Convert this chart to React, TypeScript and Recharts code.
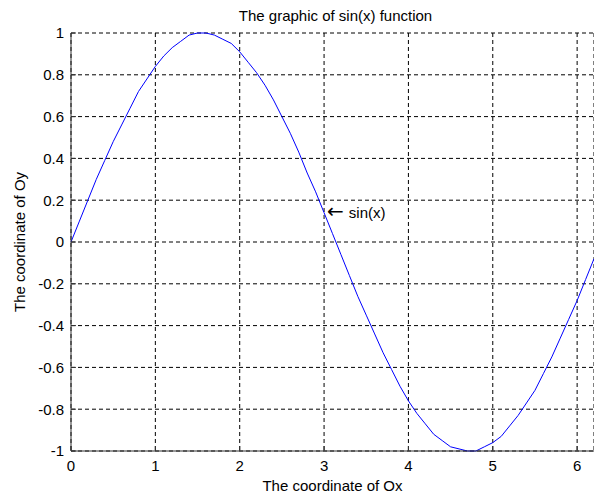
import { LineChart, Line, XAxis, YAxis, CartesianGrid, ReferenceDot } from 'recharts';

// samples, step 0.1
const xValues = [
  0, 0.1, 0.2, 0.3, 0.4, 0.5, 0.6, 0.7, 0.8, 0.9,
  1.0, 1.1, 1.2, 1.3, 1.4, 1.5, 1.6, 1.7, 1.8, 1.9,
  2.0, 2.1, 2.2, 2.3, 2.4, 2.5, 2.6, 2.7, 2.8, 2.9,
  3.0, 3.1, 3.2, 3.3, 3.4, 3.5, 3.6, 3.7, 3.8, 3.9,
  4.0, 4.1, 4.2, 4.3, 4.4, 4.5, 4.6, 4.7, 4.8, 4.9,
  5.0, 5.1, 5.2, 5.3, 5.4, 5.5, 5.6, 5.7, 5.8, 5.9,
  6.0, 6.1, 6.2,
];
const yValues = [
  0, 0.1, 0.2, 0.3, 0.39, 0.48, 0.56, 0.64, 0.72, 0.78,
  0.84, 0.89, 0.93, 0.96, 0.99, 1.0, 1.0, 0.99, 0.97, 0.95,
  0.91, 0.86, 0.81, 0.75, 0.68, 0.6, 0.52, 0.43, 0.33, 0.24,
  0.14, 0.04, -0.06, -0.16, -0.26, -0.35, -0.44, -0.53, -0.61, -0.69,
  -0.76, -0.82, -0.87, -0.92, -0.95, -0.98, -0.99, -1.0, -1.0, -0.98,
  -0.96, -0.93, -0.88, -0.83, -0.77, -0.71, -0.63, -0.55, -0.46, -0.37,
  -0.28, -0.18, -0.08,
];

const xTicks = [0, 1, 2, 3, 4, 5, 6];
const yTicks = [-1, -0.8, -0.6, -0.4, -0.2, 0, 0.2, 0.4, 0.6, 0.8, 1];

const title = 'The graphic of sin(x) function';
const xLabel = 'The coordinate of Ox';
const yLabel = 'The coordinate of Oy';
const noteX = 3;
const noteY = 0.14;
const noteText = 'sin(x)';

const data = xValues.map((x, i) => ({ x, y: yValues[i] }));

const AXIS = '#333';
const FONT = '"Liberation Sans", Arial, sans-serif';

const BottomTick = (props: any) => {
  const { x, y, payload } = props;
  return (
    <g>
      <line x1={x} y1={y} x2={x} y2={y - 5} stroke={AXIS} />
      <text x={x} y={y + 20} textAnchor="middle" fontSize={15} fill="#000">
        {payload.value}
      </text>
    </g>
  );
};

const TopTick = (props: any) => {
  const { x, y } = props;
  return <line x1={x} y1={y} x2={x} y2={y + 5} stroke={AXIS} />;
};

const LeftTick = (props: any) => {
  const { x, y, payload } = props;
  return (
    <g>
      <line x1={x} y1={y} x2={x + 5} y2={y} stroke={AXIS} />
      <text x={x - 7} y={y} dy="0.36em" textAnchor="end" fontSize={15} fill="#000">
        {payload.value}
      </text>
    </g>
  );
};

// text(3, sin(3), '\leftarrow sin(x)')
const Note = (props: any) => (
  <text x={props.cx + 3} y={props.cy} dy="0.36em" fontSize={15} fill="#000">
    <tspan fontFamily="DejaVu Sans" fontSize={20}>{'\u2190'}</tspan>
    <tspan dx={5}>{noteText}</tspan>
  </text>
);

export default function App() {
  return (
    <div style={{ position: 'absolute', left: 0, top: 0, width: 594, height: 495, background: '#fff', fontFamily: FONT }}>
      <div
        style={{
          position: 'absolute',
          left: 74,
          width: 523,
          top: 8,
          textAlign: 'center',
          fontSize: 15,
          lineHeight: '15px',
          color: '#000',
        }}
      >
        {title}
      </div>
      <LineChart width={594} height={495} data={data} margin={{ top: 33, right: 0, bottom: 0, left: 0 }}>
        <CartesianGrid stroke="#000" strokeDasharray="4 3" />
        <XAxis
          dataKey="x"
          type="number"
          domain={[0, 6.2]}
          ticks={xTicks}
          height={44}
          tickSize={0}
          tickMargin={0}
          tickLine={false}
          axisLine={{ stroke: AXIS }}
          tick={<BottomTick />}
          interval={0}
          label={{ value: xLabel, position: 'insideBottom', offset: 4, fill: '#000', fontSize: 15 }}
        />
        <XAxis
          xAxisId="top"
          orientation="top"
          dataKey="x"
          type="number"
          domain={[0, 6.2]}
          ticks={xTicks}
          height={0}
          tickSize={0}
          tickMargin={0}
          tickLine={false}
          axisLine={{ stroke: AXIS }}
          tick={<TopTick />}
          interval={0}
        />
        <YAxis
          type="number"
          domain={[-1, 1]}
          ticks={yTicks}
          width={71}
          tickSize={0}
          tickMargin={0}
          tickLine={false}
          axisLine={{ stroke: AXIS }}
          tick={<LeftTick />}
          interval={0}
          label={{
            value: yLabel,
            angle: -90,
            position: 'insideLeft',
            offset: 20,
            textAnchor: 'middle',
            fill: '#000',
            fontSize: 15,
          }}
        />
        <Line
          type="linear"
          dataKey="y"
          stroke="#0000ff"
          strokeWidth={1}
          dot={false}
          isAnimationActive={false}
        />
        <ReferenceDot x={noteX} y={noteY} r={0} shape={<Note />} />
      </LineChart>
    </div>
  );
}
